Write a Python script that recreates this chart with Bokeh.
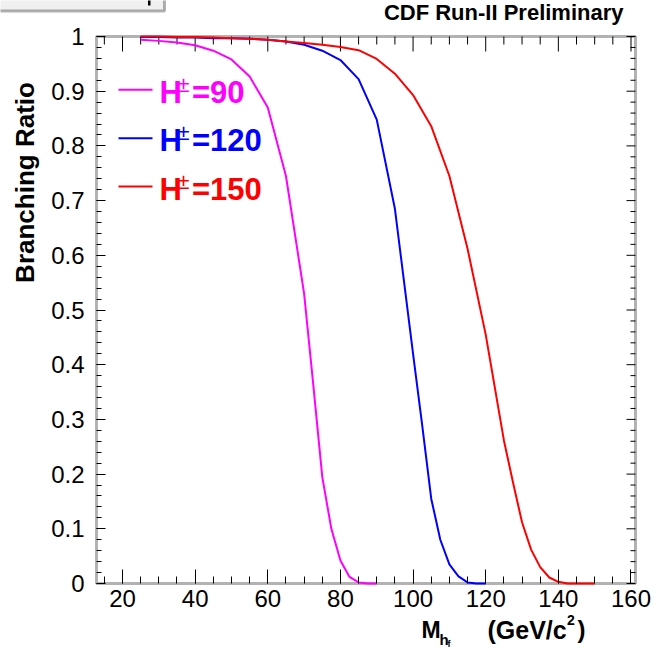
import math
import numpy as np
from bokeh.plotting import figure
from bokeh.models import (SingleIntervalTicker, LinearAxis, CustomJSTickFormatter,
                          Label, BoxAnnotation, Range1d)
from bokeh.embed import file_html
from bokeh.resources import INLINE

# ---------------- data ----------------
mass_h90 = [25, 30, 35, 40, 45, 50, 55, 60, 65, 70, 72.5, 75, 77.5, 80, 82.5, 85, 87.5, 90]
br_h90 = [0.994, 0.992, 0.989, 0.984, 0.974, 0.958, 0.927, 0.870, 0.745, 0.530, 0.365,
          0.195, 0.100, 0.042, 0.012, 0.002, 0.0, 0.0]

mass_h120 = [25, 30, 35, 40, 45, 50, 55, 60, 65, 70, 75, 80, 85, 90, 95, 100, 102.5, 105,
             107.5, 110, 112.5, 115, 117.5, 120]
br_h120 = [0.999, 0.999, 0.998, 0.998, 0.997, 0.997, 0.996, 0.994, 0.991, 0.985, 0.974,
           0.957, 0.922, 0.848, 0.685, 0.420, 0.290, 0.155, 0.080, 0.035, 0.013, 0.002,
           0.0, 0.0]

mass_h150 = [25, 30, 35, 40, 45, 50, 55, 60, 65, 70, 75, 80, 85, 90, 95, 100, 105, 110,
             115, 120, 125, 127.5, 130, 132.5, 135, 137.5, 140, 142.5, 145, 150]
br_h150 = [1.0, 1.0, 0.999, 0.999, 0.998, 0.997, 0.996, 0.994, 0.991, 0.988, 0.985, 0.981,
           0.975, 0.959, 0.932, 0.893, 0.836, 0.745, 0.612, 0.455, 0.262, 0.185, 0.112,
           0.062, 0.030, 0.011, 0.003, 0.0, 0.0, 0.0]

series_labels = ["=90", "=120", "=150"]
series_colors = ["#ff00ff", "#0000ff", "#ff0000"]

x_limits = (12.84, 161.24)
y_limits = (0.0, 1.0)
x_tick_step = 20
x_minor_step = 5
y_tick_step = 0.1
y_minor_step = 0.02

title_text = "CDF Run-II Preliminary"
y_title = "Branching Ratio"

FONT = "Liberation Sans"

# ---------------- page geometry (pixels) ----------------
W, H = 654, 664
BOX_L, BOX_R, BOX_T, BOX_B = 96, 635, 36, 583

sx = (x_limits[1] - x_limits[0]) / (BOX_R - BOX_L)
sy = (y_limits[1] - y_limits[0]) / (BOX_B - BOX_T)
x_start = x_limits[0] - BOX_L * sx
x_end = x_limits[1] + (W - BOX_R) * sx
y_start = y_limits[0] - (H - BOX_B) * sy
y_end = y_limits[1] + BOX_T * sy

p = figure(width=W, height=H, output_backend="svg", toolbar_location=None,
           x_range=Range1d(x_start, x_end), y_range=Range1d(y_start, y_end),
           x_axis_type=None, y_axis_type=None,
           min_border_left=0, min_border_right=0, min_border_top=0, min_border_bottom=0)
p.background_fill_color = "white"
p.border_fill_color = "white"
p.outline_line_color = None

fmt_code = "return Number(tick.toFixed(2)).toString();"


def make_axis(step, nminor, major_in, minor_in, bounds, loc):
    ax = LinearAxis(ticker=SingleIntervalTicker(interval=step, num_minor_ticks=nminor),
                    bounds=bounds, fixed_location=loc)
    ax.axis_line_color = None
    ax.major_tick_in = major_in
    ax.major_tick_out = 0
    ax.minor_tick_in = minor_in
    ax.minor_tick_out = 0
    ax.major_tick_line_color = "black"
    ax.minor_tick_line_color = "black"
    ax.major_tick_line_width = 1
    ax.minor_tick_line_width = 1
    ax.formatter = CustomJSTickFormatter(code=fmt_code)
    ax.major_label_text_font = FONT
    ax.major_label_text_font_size = "24px"
    ax.major_label_text_color = "black"
    return ax


xb = make_axis(x_tick_step, 4, 14, 7, x_limits, y_limits[0])
xb.major_label_standoff = 6
yl = make_axis(y_tick_step, 5, 9, 5, y_limits, x_limits[0])
yl.major_label_standoff = 12
p.add_layout(xb, "below")
p.add_layout(yl, "left")

# mirrored ticks on the top and right edges of the box
x_major = np.arange(20, x_limits[1], x_tick_step)
x_minor = [v for v in np.arange(15, x_limits[1], x_minor_step) if v % x_tick_step]
y_major = np.round(np.arange(0, 1.0001, y_tick_step), 3)
y_minor = [v for v in np.round(np.arange(0, 1.0001, y_minor_step), 3) if round(v * 10, 6) % 1]

p.ray(x=x_major, y=y_limits[1], length=15, length_units="screen", angle=-math.pi / 2,
      line_color="black", line_width=1)
p.ray(x=x_minor, y=y_limits[1], length=8, length_units="screen", angle=-math.pi / 2,
      line_color="black", line_width=1)
p.ray(x=x_limits[1], y=y_major, length=9, length_units="screen", angle=math.pi,
      line_color="black", line_width=1)
p.ray(x=x_limits[1], y=y_minor, length=5, length_units="screen", angle=math.pi,
      line_color="black", line_width=1)

# plot box
p.add_layout(BoxAnnotation(left=x_limits[0], right=x_limits[1], bottom=y_limits[0],
                           top=y_limits[1], fill_color=None, line_color="black",
                           line_width=3, level="underlay"))

# ---------------- curves ----------------
for xs, ys, c in [(mass_h90, br_h90, series_colors[0]),
                  (mass_h120, br_h120, series_colors[1]),
                  (mass_h150, br_h150, series_colors[2])]:
    p.line(xs, ys, line_color=c, line_width=2)


def lab(text, x, y, size, color="black", bold=True, align="left", angle=0.0):
    p.add_layout(Label(x=x, y=y, x_units="canvas", y_units="canvas", text=text,
                       text_font=FONT, text_font_size=size,
                       text_font_style="bold" if bold else "normal",
                       text_color=color, text_align=align, text_baseline="middle",
                       angle=angle))


def canvas_box(l, r, t, b, fill, line=None, lw=0):
    p.add_layout(BoxAnnotation(left=l, right=r, top=t, bottom=b,
                               left_units="canvas", right_units="canvas",
                               top_units="canvas", bottom_units="canvas",
                               fill_color=fill, fill_alpha=1.0,
                               line_color=line, line_width=lw))


# ---------------- legend ----------------
legend_line_y = [89.3, 137.7, 186.0]
legend_mid_y = [91.7, 140.3, 188.8]
for i in range(3):
    canvas_box(118, 152, legend_line_y[i] - 1, legend_line_y[i] + 1, series_colors[i])
    lab("H", 159, legend_mid_y[i], "31px", series_colors[i])
    lab("\u00b1", 177, legend_mid_y[i] - 8, "22px", series_colors[i], bold=False)
    lab(series_labels[i], 191.5, legend_mid_y[i], "31px", series_colors[i])

# ---------------- titles ----------------
lab(title_text, 623, 12, "22px", align="right")
lab(y_title, 24, 182, "26px", align="center", angle=math.pi / 2)

lab("M", 421, 629, "23px")
lab("h", 439, 639, "15px")
lab("f", 447, 643, "9px")
lab("(GeV/c", 487, 629, "25px")
lab("2", 566.5, 619, "14px")
lab(")", 577, 629, "24px")

# ---------------- cut-off title box at the top-left ----------------
canvas_box(-10, 164, -10, 10.5, "#f0f0f0", "black", 3)
canvas_box(147.5, 150, -5, 5, "black")

open("out.html", "w").write(file_html(p, INLINE))
